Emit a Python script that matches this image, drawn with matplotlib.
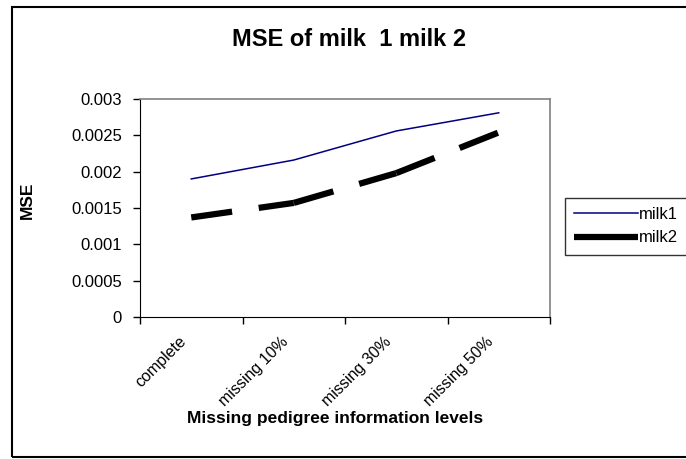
import numpy as np
import matplotlib
matplotlib.use('Agg')
import matplotlib.pyplot as plt
from matplotlib.lines import Line2D
from matplotlib.patches import Rectangle
from matplotlib.transforms import ScaledTranslation

plt.rcParams['font.family'] = ['Liberation Sans', 'DejaVu Sans']

# data
levels = ['complete', 'missing 10%', 'missing 30%', 'missing 50%']
milk1 = [0.0019, 0.00216, 0.00256, 0.00281]
milk2 = [0.00137, 0.00157, 0.00198, 0.00254]
y_ticks = [0, 0.0005, 0.001, 0.0015, 0.002, 0.0025, 0.003]
y_labels = ['0', '0.0005', '0.001', '0.0015', '0.002', '0.0025', '0.003']

fig = plt.figure(figsize=(6.86, 4.59), dpi=100)
ax = fig.add_axes([140 / 686, 1 - 317 / 459, 410 / 686, 218 / 459])

x = np.arange(len(levels))
ax.plot(x, milk1, color='#000080', lw=1.1, label='milk1')
# Excel restarts the dash pattern on each segment
for i in range(len(x) - 1):
    ax.plot(x[i:i + 2], milk2[i:i + 2], color='black', lw=4.5,
            dashes=(6.6, 4.3), solid_capstyle='butt', dash_capstyle='butt')

ax.set_xlim(-0.5, len(levels) - 0.5)
ax.set_ylim(0, 0.003)
ax.set_yticks(y_ticks)
ax.set_yticklabels(y_labels, fontsize=12)
ax.set_xticks(np.arange(-0.5, len(levels), 1.0))
ax.set_xticklabels([])
ax.set_xticks(x, minor=True)
ax.set_xticklabels(levels, minor=True, rotation=45, ha='right',
                   rotation_mode='anchor', fontsize=11.5)
ax.tick_params(axis='x', which='minor', length=0, pad=10)
ax.tick_params(axis='both', which='major', direction='out', length=5, width=1)
ax.tick_params(axis='y', pad=8)
shift = ScaledTranslation(-0.13, -0.03, fig.dpi_scale_trans)
for lab in ax.get_xticklabels(minor=True):
    lab.set_transform(lab.get_transform() + shift)

for s in ['left', 'bottom']:
    ax.spines[s].set_color('black')
for s in ['top', 'right']:
    ax.spines[s].set_color('#808080')
    ax.spines[s].set_linewidth(1.2)

fig.text(27 / 686, 1 - 200 / 459, 'MSE', rotation=90, ha='center', va='center',
         fontsize=12.5, fontweight='bold')
ax.set_xlabel('Missing pedigree information levels', fontsize=12.5, fontweight='bold')
ax.xaxis.set_label_coords(0.476, -0.43)

fig.text(349 / 686, 1 - 40 / 459, 'MSE of milk  1 milk 2', ha='center', va='center',
         fontsize=17, fontweight='bold')

handles = [Line2D([], [], color='#000080', lw=1.1),
           Line2D([], [], color='black', lw=4.5, solid_capstyle='butt')]
leg = fig.legend(handles, ['milk1', 'milk2'], loc='upper left',
                 bbox_to_anchor=(565 / 686, 1 - 198 / 459), fontsize=12,
                 frameon=True, fancybox=False, edgecolor='black',
                 handlelength=3.8, borderaxespad=0, borderpad=0.55,
                 labelspacing=0.5, handletextpad=0.1)
leg.get_frame().set_linewidth(1)

fig.patches.append(Rectangle((12 / 686, 2 / 459), 1.0, 450 / 459,
                             transform=fig.transFigure, fill=False,
                             edgecolor='black', lw=1.5))

fig.savefig('out.png', dpi=100)
